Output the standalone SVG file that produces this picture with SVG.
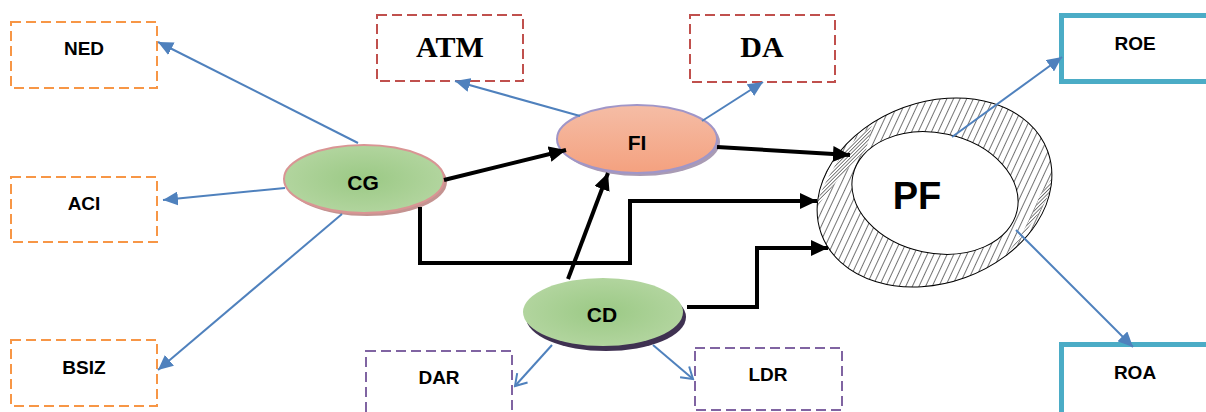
<svg xmlns="http://www.w3.org/2000/svg" width="1206" height="412" viewBox="0 0 1206 412">
<style>
  .lbl{font-family:"Liberation Sans",Arial,sans-serif;font-weight:bold;fill:#000;text-anchor:middle}
  .box{font-size:19px}
  .ell{font-size:21px}
  .ser{font-family:"Liberation Serif","Times New Roman",serif;font-weight:bold;font-size:30px;text-anchor:middle;fill:#000}
  .dashO{fill:#fff;stroke:#F79646;stroke-width:2;stroke-dasharray:10,5}
  .dashR{fill:#fff;stroke:#C0504D;stroke-width:2;stroke-dasharray:10,5}
  .dashP{fill:#fff;stroke:#8064A2;stroke-width:2;stroke-dasharray:10,5}
  .teal{fill:#fff;stroke:#4BACC6;stroke-width:5}
  .blue{fill:none;stroke:#4F81BD;stroke-width:2}
  .blk{fill:none;stroke:#000;stroke-width:4}
</style>
<defs>
  <radialGradient id="green" cx="50%" cy="50%" r="60%">
    <stop offset="0" stop-color="#9BC985"/>
    <stop offset="1" stop-color="#B6D7A3"/>
  </radialGradient>
  <linearGradient id="salmon" x1="0" y1="0" x2="0" y2="1">
    <stop offset="0" stop-color="#F5BDA6"/>
    <stop offset="1" stop-color="#F4A17F"/>
  </linearGradient>
  <pattern id="hatch" width="6" height="6" patternUnits="userSpaceOnUse" patternTransform="rotate(45)">
    <rect width="6" height="6" fill="#fff"/>
    <line x1="0" y1="0" x2="0" y2="6" stroke="#000" stroke-width="1.1"/>
  </pattern>
  <pattern id="hatchD" width="2.5" height="2.5" patternUnits="userSpaceOnUse" patternTransform="rotate(45)">
    <rect width="2.5" height="2.5" fill="#fff"/>
    <line x1="0" y1="0" x2="0" y2="2.5" stroke="#000" stroke-width="1"/>
  </pattern>
  <clipPath id="pfclip">
    <ellipse cx="934.5" cy="192.5" rx="120.5" ry="90.5" transform="rotate(-20 934.5 192.5)"/>
  </clipPath>
  <marker id="ab" markerUnits="userSpaceOnUse" markerWidth="16" markerHeight="14" refX="15" refY="7" orient="auto">
    <path d="M0,0 L15,7 L0,14 z" fill="#4F81BD"/>
  </marker>
  <marker id="av" markerUnits="userSpaceOnUse" markerWidth="14" markerHeight="16" refX="12" refY="8" orient="auto">
    <path d="M1,1 L12,8 L1,15" fill="none" stroke="#4F81BD" stroke-width="2"/>
  </marker>
  <marker id="ak" markerUnits="userSpaceOnUse" markerWidth="18" markerHeight="16" refX="17" refY="8" orient="auto">
    <path d="M0,0 L17,8 L0,16 z" fill="#000"/>
  </marker>
</defs>
<rect width="1206" height="412" fill="#fff"/>

<g id="node-NED"><rect class="dashO" x="11" y="22" width="146" height="66"/><text class="lbl box" x="84" y="55">NED</text></g>
<g id="node-ACI"><rect class="dashO" x="11" y="177" width="146" height="65"/><text class="lbl box" x="84" y="210">ACI</text></g>
<g id="node-BSIZ"><rect class="dashO" x="11" y="340" width="146" height="66"/><text class="lbl box" x="84" y="374">BSIZ</text></g>
<g id="node-ATM"><rect class="dashR" x="377" y="15" width="146" height="66"/><text class="ser" x="450" y="57">ATM</text></g>
<g id="node-DA"><rect class="dashR" x="690" y="15" width="145" height="67"/><text class="ser" x="762" y="57">DA</text></g>
<g id="node-DAR"><rect class="dashP" x="366" y="351" width="146" height="72"/><text class="lbl box" x="439" y="384">DAR</text></g>
<g id="node-LDR"><rect class="dashP" x="695" y="348" width="147" height="62"/><text class="lbl box" x="768" y="381">LDR</text></g>
<g id="node-ROE"><rect class="teal" x="1061.5" y="15.5" width="160" height="66"/><text class="lbl box" x="1135" y="50">ROE</text></g>
<g id="node-ROA"><rect class="teal" x="1061.5" y="344.5" width="160" height="80"/><text class="lbl box" x="1135" y="379">ROA</text></g>

<g id="node-CG">
  <ellipse cx="367" cy="182" rx="80" ry="34" fill="#C49391"/>
  <ellipse cx="364" cy="179" rx="80" ry="34" fill="url(#green)" stroke="#D99594" stroke-width="2"/>
  <text class="lbl ell" x="363" y="190">CG</text>
</g>
<g id="node-FI">
  <ellipse cx="640" cy="142" rx="80" ry="34" fill="#A99BB4"/>
  <ellipse cx="637" cy="139" rx="80" ry="34" fill="url(#salmon)" stroke="#A096C8" stroke-width="2"/>
  <text class="lbl ell" x="637" y="150">FI</text>
</g>
<g id="node-CD">
  <ellipse cx="606" cy="317" rx="80" ry="34" fill="#3F3151"/>
  <ellipse cx="603" cy="312" rx="80" ry="34" fill="url(#green)"/>
  <text class="lbl ell" x="602" y="322">CD</text>
</g>
<g id="node-PF">
  <ellipse cx="934.5" cy="192.5" rx="120.5" ry="90.5" transform="rotate(-20 934.5 192.5)" fill="url(#hatch)"/>
  <g clip-path="url(#pfclip)">
    <path d="M872,126 Q835,150 812,215 Q830,185 866,150 z" fill="url(#hatchD)"/>
    <path d="M1058,170 Q1045,215 1000,262 Q1030,228 1040,195 z" fill="url(#hatchD)"/>
  </g>
  <ellipse cx="934.5" cy="192.5" rx="120.5" ry="90.5" transform="rotate(-20 934.5 192.5)" fill="none" stroke="#000" stroke-width="1"/>
  <ellipse cx="935" cy="193" rx="84" ry="60" transform="rotate(12 935 193)" fill="#fff" stroke="#000" stroke-width="1"/>
  <text class="lbl" style="font-size:38px" x="917" y="209">PF</text>
</g>

<g id="connectors">
  <path class="blue" d="M358,143 L158,42" marker-end="url(#ab)"/>
  <path class="blue" d="M285,188 L163,200" marker-end="url(#ab)"/>
  <path class="blue" d="M342,214 L158,370" marker-end="url(#ab)"/>
  <path class="blue" d="M580,116 L455,81" marker-end="url(#ab)"/>
  <path class="blue" d="M702,121 L763,82" marker-end="url(#ab)"/>
  <path class="blue" d="M952,137 L1062,57" marker-end="url(#ab)"/>
  <path class="blue" d="M1016,230 L1133,347" marker-end="url(#ab)"/>
  <path class="blue" d="M552,345 L515,386" marker-end="url(#av)"/>
  <path class="blue" d="M653,345 L693,379" marker-end="url(#av)"/>
  <path class="blk" d="M444,180 L566,150" marker-end="url(#ak)"/>
  <path class="blk" d="M717,147 L850,155" marker-end="url(#ak)"/>
  <path class="blk" d="M420,207 L420,263 L630,263 L630,201 L817,201" marker-end="url(#ak)"/>
  <path class="blk" d="M568,279 L608,173" marker-end="url(#ak)"/>
  <path class="blk" d="M687,307 L757,307 L757,248 L828,248" marker-end="url(#ak)"/>
</g>
</svg>
